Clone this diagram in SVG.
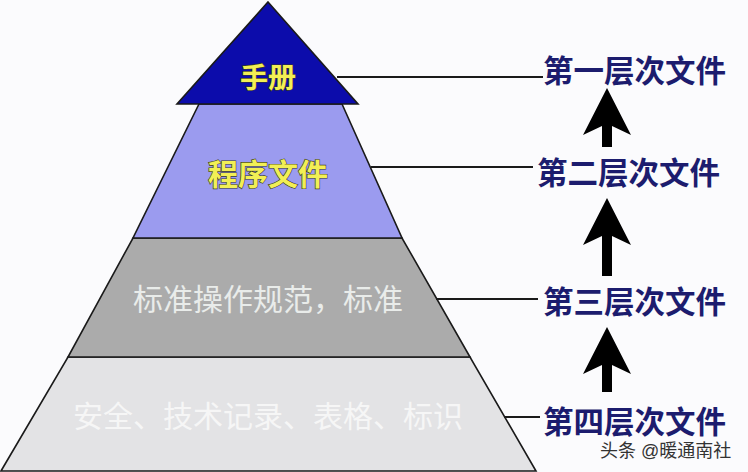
<svg xmlns="http://www.w3.org/2000/svg" width="748" height="472" viewBox="0 0 748 472">
<defs>
<style>
.t{font-family:"Liberation Sans","Noto Sans CJK SC",sans-serif}
.lvl{stroke:#1a1a1a;stroke-width:1.6;stroke-linejoin:miter}
.yel{font-size:28px;font-weight:bold;fill:#f2ef55;stroke:#3a3a1a;stroke-width:1.2;paint-order:stroke;text-anchor:middle}
.wht{font-size:30px;text-anchor:middle}
.lab{font-size:30.5px;font-weight:bold;fill:#1c1c6e}
.conn{stroke:#1a1a1a;stroke-width:1.8;fill:none}
.arr{fill:#000}
</style>
</defs>
<rect width="748" height="472" fill="#fbfbfd"/>
<g id="layer4">
<polygon class="lvl" points="68,357 470,357 536,471 1,471" fill="#e3e3e5"/>
<text class="t wht" x="268" y="427" fill="#f6f6f6">安全、技术记录、表格、标识</text>
</g>
<g id="layer3">
<polygon class="lvl" points="133,238 402,238 470,357 68,357" fill="#ababab"/>
<text class="t wht" x="268" y="310" fill="#e9ecea">标准操作规范，标准</text>
</g>
<g id="layer2">
<polygon class="lvl" points="199,104 342,104 402,238 133,238" fill="#9b9bef"/>
<text class="t yel" x="268" y="185" style="font-size:30px">程序文件</text>
</g>
<g id="layer1">
<polygon class="lvl" points="268,2 358,104 177,104" fill="#0c0cab" stroke-width="1"/>
<text class="t yel" x="268" y="88">手册</text>
</g>
<g id="connectors">
<line class="conn" x1="337" y1="77" x2="543" y2="77"/>
<line class="conn" x1="371" y1="167" x2="533" y2="167"/>
<line class="conn" x1="436" y1="299" x2="538" y2="299"/>
<line class="conn" x1="504" y1="417" x2="540" y2="417"/>
<polygon class="arr" points="607,88 631,135 612,126 612,147 602,147 602,126 583,135"/>
<polygon class="arr" points="607,198 631,245 612,236 612,276 602,276 602,236 583,245"/>
<polygon class="arr" points="607,327 631,374 612,365 612,392 602,392 602,365 583,374"/>
</g>
<g id="labels">
<text class="t lab" x="543" y="82">第一层次文件</text>
<text class="t lab" x="537" y="184">第二层次文件</text>
<text class="t lab" x="543" y="313">第三层次文件</text>
<text class="t lab" x="543" y="433">第四层次文件</text>
</g>
<text class="t" x="600" y="457" font-size="18" fill="#333">头条 @暖通南社</text>
</svg>
